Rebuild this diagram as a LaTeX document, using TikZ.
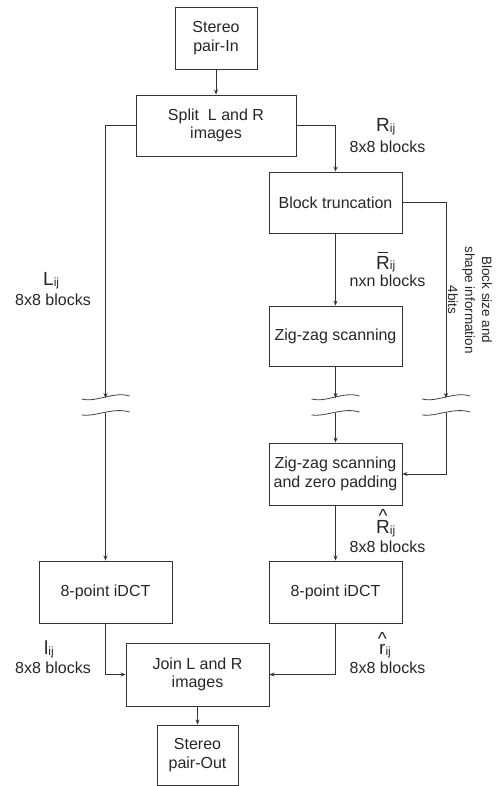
\documentclass[tikz,border=0pt]{standalone}
\usepackage{fontspec}
\setmainfont{Liberation Sans}
\usetikzlibrary{arrows.meta}
\begin{document}
\begin{tikzpicture}[x=1pt,y=-1pt,
  box/.style={draw=black!80,line width=0.9pt,align=center,font=\fontsize{16}{18.5}\selectfont,text=black!85,inner sep=0pt},
  conn/.style={draw=black!80,line width=0.8pt},
  arr/.style={conn,-{Stealth[length=5pt,width=4pt]}},
  wave/.style={draw=black!75,line width=0.8pt},
  lbl/.style={font=\fontsize{16}{18}\selectfont,text=black!85,inner sep=0pt},
  big/.style={font=\fontsize{19}{19}\selectfont,text=black!85,inner sep=0pt}]
\useasboundingbox (0,0) rectangle (498,786);
% boxes
\node[box,minimum width=82pt,minimum height=62pt] (in) at (216,38) {Stereo\\pair-In};
\node[box,minimum width=160pt,minimum height=61pt] (split) at (216,125.5) {Split\ \ L and R\\images};
\node[box,minimum width=133pt,minimum height=61pt] (trunc) at (335.5,202.5) {Block truncation};
\node[box,minimum width=133pt,minimum height=60pt] (zz) at (335.5,336) {Zig-zag scanning};
\node[box,minimum width=133pt,minimum height=62pt] (zzp) at (335.5,474) {Zig-zag scanning\\and zero padding};
\node[box,minimum width=133pt,minimum height=62pt] (idl) at (105.5,592) {8-point iDCT};
\node[box,minimum width=133pt,minimum height=62pt] (idr) at (335.5,592) {8-point iDCT};
\node[box,minimum width=143pt,minimum height=63pt] (join) at (197.5,674.5) {Join L and R\\images};
\node[box,minimum width=81pt,minimum height=60pt] (out) at (197.5,755) {Stereo\\pair-Out};
% wave break coordinates
\foreach \n/\x in {l/105.5,m/335.5,r/446} {
  \coordinate (\n t) at (\x,398);
  \coordinate (\n b) at (\x,413);
  \draw[wave] (\x-24,399) .. controls (\x-10,403) and (\x+8,391) .. (\x+24,396);
  \draw[wave] (\x-24,415) .. controls (\x-10,417) and (\x+8,407) .. (\x+24,412);
}
\coordinate (bend) at (446,202.5);
\coordinate (pin) at (446,474);
% connectors
\draw[arr] (in) -- (split);
\draw[arr] (split.west) -| (lt);
\draw[arr] (split.east) -| (trunc.north);
\draw[arr] (trunc) -- (zz);
\draw[arr] (trunc.east) -- (bend) -- (rt);
\draw[arr] (zz) -- (mt);
\draw[arr] (lb) -- (idl.north);
\draw[arr] (mb) -- (zzp.north);
\draw[arr] (rb) -- (pin) -- (zzp.east);
\draw[arr] (zzp) -- (idr);
\draw[arr] (idl.south) |- (join.west);
\draw[arr] (idr.south) |- (join.east);
\draw[arr] (join) -- (out);
% labels
\node[big,anchor=base west] (rij) at (376,132) {R\raisebox{-1pt}{\fontsize{12}{12}\selectfont ij}};
\node[lbl] (rb8) at (387.5,147) {8x8 blocks};
\node[big,anchor=base west] (lij) at (43,285) {L\raisebox{-1pt}{\fontsize{12}{12}\selectfont ij}};
\node[lbl] (lb8) at (53,300) {8x8 blocks};
\node[big,anchor=base west] (rbar) at (376,269) {\ooalign{R\cr\hidewidth\raisebox{15.5pt}{\rule{10pt}{1.3pt}}\hidewidth\cr}\raisebox{-1pt}{\fontsize{12}{12}\selectfont ij}};
\node[lbl] (nxn) at (387.5,281) {nxn blocks};
\node[big,anchor=base west] (rhat) at (376,533) {\ooalign{R\cr\hidewidth\raisebox{11pt}{\textasciicircum}\hidewidth\cr}\raisebox{-1pt}{\fontsize{12}{12}\selectfont ij}};
\node[lbl] (rh8) at (387.5,547) {8x8 blocks};
\node[big,anchor=base west] (lhat) at (44,654) {l\raisebox{-1pt}{\fontsize{12}{12}\selectfont ij}};
\node[lbl] (lh8) at (53,668) {8x8 blocks};
\node[big,anchor=base west] (rsm) at (379,654) {\ooalign{r\cr\hidewidth\raisebox{9pt}{\textasciicircum}\hidewidth\cr}\raisebox{-1pt}{\fontsize{12}{12}\selectfont ij}};
\node[lbl] (rs8) at (387.5,668) {8x8 blocks};
\node[rotate=-90,align=center,font=\fontsize{13.5}{17}\selectfont,text=black!85,inner sep=0pt] (info) at (470,300) {Block size and\\shape information\\4bits};
\end{tikzpicture}
\end{document}
